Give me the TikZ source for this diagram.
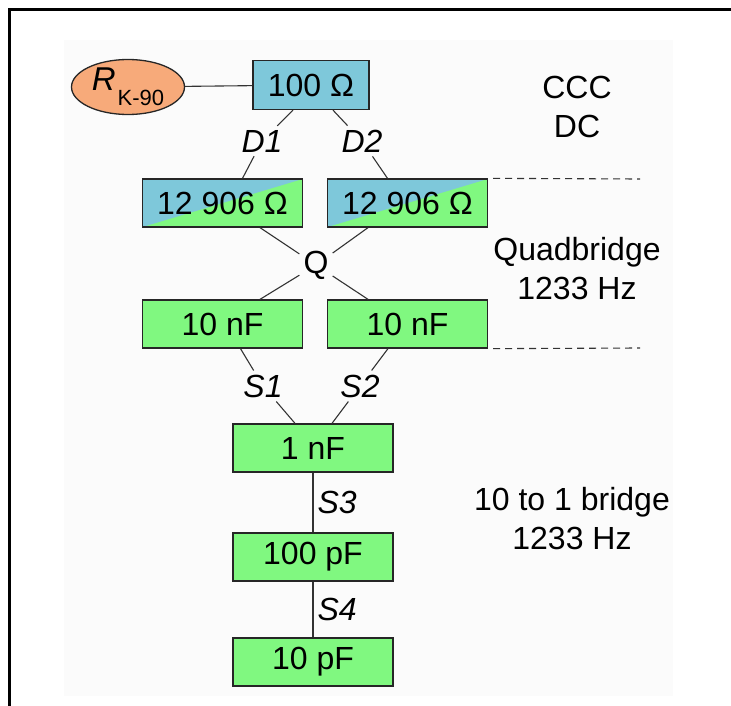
\documentclass[tikz,border=0pt]{standalone}
\usepackage{fontspec}
\setmainfont{Liberation Sans}
\usetikzlibrary{shapes.geometric}
\definecolor{ohmblue}{RGB}{126,200,218}
\definecolor{capgreen}{RGB}{128,248,128}
\definecolor{kiorange}{RGB}{247,170,122}
\definecolor{paper}{RGB}{251,251,251}
\tikzset{
  box/.style={draw=black!85, line width=1.3pt, minimum height=48pt, minimum width=160pt,
              inner sep=0pt, font=\fontsize{32}{32}\selectfont},
  rbox/.style={box, fill=ohmblue},
  cbox/.style={box, fill=capgreen},
  split/.style={box, fill=capgreen,
    path picture={\fill[ohmblue] (path picture bounding box.north west)
      -- (path picture bounding box.north east) -- (path picture bounding box.south west) -- cycle;}},
  edge/.style={line width=1.1pt, black!80},
  dedge/.style={edge, dash pattern=on 7pt off 5pt},
  lab/.style={text=black, font=\fontsize{32}{32}\selectfont\itshape, inner sep=4pt},
  note/.style={align=center, font=\fontsize{32}{39}\selectfont}
}
\begin{document}
\begin{tikzpicture}[x=1pt, y=-1pt]
  \useasboundingbox (0,0) rectangle (731,706);
  \fill[paper] (64,40) rectangle (673,696);
  \draw[line width=3pt] (731,10) -| (9,706);

  % DC part
  \node[ellipse, draw=black!85, line width=1.3pt, fill=kiorange, minimum width=113pt,
        minimum height=55pt, inner sep=0pt] (rk) at (128,87)
        {\fontsize{33}{33}\selectfont\itshape R\kern2pt\raisebox{-15pt}{\fontsize{22}{22}\selectfont\upshape K-90}};
  \node[rbox, minimum width=116pt, minimum height=49pt] (r100) at (311,85) {100 Ω};
  \node[split] (rl) at (222.5,203) {12 906 Ω};
  \node[split] (rr) at (407.5,203) {12 906 Ω};
  \node[note] (ccc) at (577,107) {CCC\\DC};

  % quadbridge
  \node[cbox] (cl) at (222.5,324) {10 nF};
  \node[cbox] (cr) at (407.5,324) {10 nF};
  \node[note] (quad) at (577,269) {Quadbridge\\1233 Hz};

  % 10 to 1 bridge
  \node[cbox] (c1) at (313,448) {1 nF};
  \node[cbox] (c100) at (313,557) {100 pF};
  \node[cbox] (c10) at (313,662) {10 pF};
  \node[note] (ratio) at (572,519) {10 to 1 bridge\\1233 Hz};

  % switch labels
  \node[lab] (d1) at (262,141) {D1};
  \node[lab] (d2) at (362,141) {D2};
  \node[lab, font=\fontsize{32}{32}\selectfont] (q) at (316,265) {Q};
  \node[lab] (s1) at (263,386) {S1};
  \node[lab] (s2) at (360,386) {S2};

  \coordinate (qtop) at (640,179);
  \coordinate (qbot) at (640,348);

  \draw[edge] (rk) -- (r100);
  \draw[edge] ([xshift=-18pt]r100.south) -- (d1) -- ([xshift=20pt]rl.north);
  \draw[edge] ([xshift=22pt]r100.south) -- (d2) -- ([xshift=-20pt]rr.north);
  \draw[edge] ([xshift=37.5pt]rl.south) -- (q) -- ([xshift=-39.5pt]cr.north);
  \draw[edge] ([xshift=-39.5pt]rr.south) -- (q) -- ([xshift=37.5pt]cl.north);
  \draw[edge] ([xshift=18pt]cl.south) -- (s1) -- ([xshift=-18pt]c1.north);
  \draw[edge] ([xshift=-19.5pt]cr.south) -- (s2) -- ([xshift=19pt]c1.north);
  \draw[edge] (c1) -- node[lab, right] (s3) {S3} (c100);
  \draw[edge] (c100) -- node[lab, right] (s4) {S4} (c10);
  \draw[dedge] ([xshift=5pt]rr.north east) -- (qtop);
  \draw[dedge] ([xshift=5pt]cr.south east) -- (qbot);
\end{tikzpicture}
\end{document}
